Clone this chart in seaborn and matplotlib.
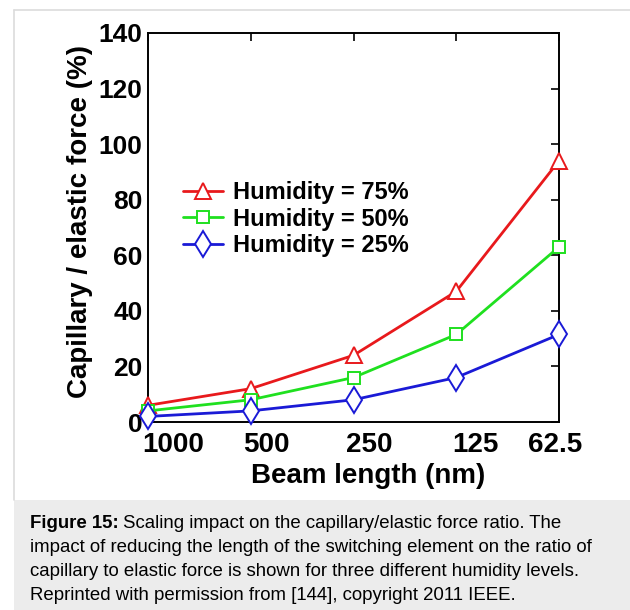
import matplotlib
matplotlib.use("Agg")
import matplotlib.pyplot as plt
import matplotlib.transforms as mtransforms
from matplotlib.patches import Rectangle
from matplotlib.lines import Line2D
import seaborn as sns
import pandas as pd

# Beam lengths (nm), plotted as evenly spaced categories
beam_lengths = ["1000", "500", "250", "125", "62.5"]
humidity_75 = [6, 12, 24, 47, 94]
humidity_50 = [4, 8, 16, 31.5, 63]
humidity_25 = [2, 4, 8, 16, 31.5]
series_labels = ["Humidity = 75%", "Humidity = 50%", "Humidity = 25%"]
y_ticks = [0, 20, 40, 60, 80, 100, 120, 140]

rows = []
for label, values in zip(series_labels, [humidity_75, humidity_50, humidity_25]):
    for i, v in enumerate(values):
        rows.append({"pos": i, "ratio": v, "series": label})
df = pd.DataFrame(rows)

sns.set_theme(style="white")
plt.rcParams["font.family"] = ["Liberation Sans", "DejaVu Sans"]
plt.rcParams.update({"text.color": "black", "axes.labelcolor": "black",
                     "xtick.color": "black", "ytick.color": "black"})

fig = plt.figure(figsize=(6.3, 6.1), dpi=100)
fig.patch.set_facecolor("white")

# caption panel and outer frame
fig.add_artist(Rectangle((14 / 630, 0), 1 - 14 / 630, 110 / 610,
                         transform=fig.transFigure, facecolor="#ececec",
                         edgecolor="none", zorder=0))
fig.add_artist(Line2D([14 / 630, 14 / 630], [110 / 610, 600 / 610],
                      transform=fig.transFigure, color="#dcdcdc", lw=1.2))
fig.add_artist(Line2D([14 / 630, 1], [600 / 610, 600 / 610],
                      transform=fig.transFigure, color="#dcdcdc", lw=1.2))

ax = fig.add_axes([148 / 630, 188 / 610, 411 / 630, 389 / 610])

palette = {"Humidity = 75%": "#e8191c",
           "Humidity = 50%": "#1fe01f",
           "Humidity = 25%": "#1a1ad6"}
markers = {"Humidity = 75%": "^",
           "Humidity = 50%": "s",
           "Humidity = 25%": "d"}
sizes = {"Humidity = 75%": 11, "Humidity = 50%": 9, "Humidity = 25%": 13}

for label in series_labels:
    sub = df[df["series"] == label]
    sns.lineplot(data=sub, x="pos", y="ratio", ax=ax, color=palette[label],
                 marker=markers[label], markersize=sizes[label],
                 markerfacecolor="white", markeredgecolor=palette[label],
                 markeredgewidth=1.4, linewidth=2, label=label, clip_on=False,
                 zorder=3)

ax.set_xlim(0, 4)
ax.set_ylim(0, 140)
ax.set_xticks(range(len(beam_lengths)))
ax.set_xticklabels(beam_lengths)
ax.set_yticks(y_ticks)
ax.tick_params(direction="in", length=6, width=1.2, top=True, right=True)
ax.tick_params(axis="x", labelsize=20, pad=7)
ax.tick_params(axis="y", labelsize=19, pad=4)
for lab in ax.get_xticklabels() + ax.get_yticklabels():
    lab.set_fontweight("bold")
# nudge the x tick labels horizontally
label_shift_px = [25, 16, 16, 19, -4]
for lab, dx in zip(ax.get_xticklabels(), label_shift_px):
    off = mtransforms.ScaledTranslation(dx / 100, 0, fig.dpi_scale_trans)
    lab.set_transform(lab.get_transform() + off)

for s in ax.spines.values():
    s.set_color("black")
    s.set_linewidth(1.4)

ax.set_xlabel("Beam length (nm)", fontsize=20, fontweight="bold")
ax.xaxis.set_label_coords((368 - 148) / 411, -(463 - 422) / 389)
ax.set_ylabel("Capillary / elastic force (%)", fontsize=20, fontweight="bold")
ax.yaxis.set_label_coords(-(148 - 93) / 411, (422 - 222) / 389)

leg = ax.legend(loc="upper left", bbox_to_anchor=((183 - 148) / 411, (422 - 181) / 389),
                frameon=False, prop={"size": 17, "weight": "bold"},
                handlelength=1.7, handletextpad=0.42, labelspacing=0.15,
                borderaxespad=0, borderpad=0)

# caption text
cap_x = 30 / 630
line_ys = [523, 547, 571, 595]
fs = 13.4
bold = fig.text(cap_x, 1 - line_ys[0] / 610, "Figure 15:", fontsize=fs,
                fontweight="bold", va="center", ha="left")
fig.canvas.draw()
renderer = fig.canvas.get_renderer()
bb = bold.get_window_extent(renderer)
fig.text(bb.x1 / fig.bbox.width + 4 / 630, 1 - line_ys[0] / 610,
         "Scaling impact on the capillary/elastic force ratio. The",
         fontsize=fs, va="center", ha="left")
rest = [
    "impact of reducing the length of the switching element on the ratio of",
    "capillary to elastic force is shown for three different humidity levels.",
    "Reprinted with permission from [144], copyright 2011 IEEE.",
]
for y, t in zip(line_ys[1:], rest):
    fig.text(cap_x, 1 - y / 610, t, fontsize=fs, va="center", ha="left")

fig.savefig("out.png", dpi=100)
